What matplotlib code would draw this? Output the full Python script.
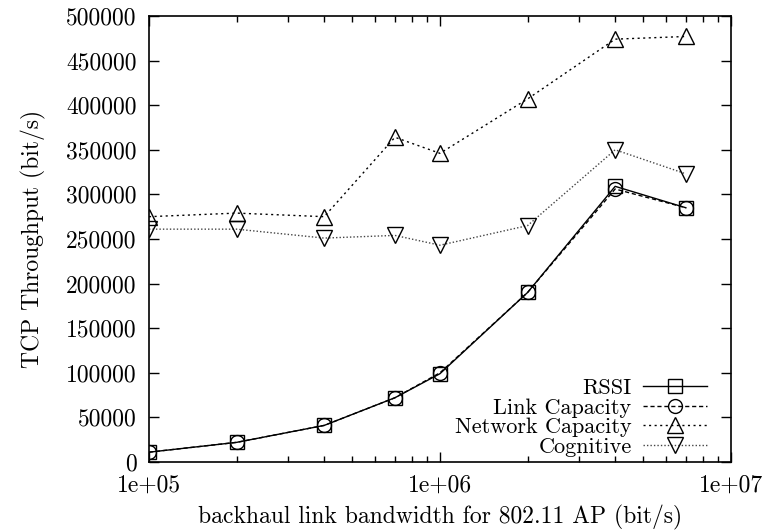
import matplotlib
matplotlib.use("Agg")
import matplotlib.pyplot as plt
from matplotlib.ticker import LogLocator, FixedLocator, NullFormatter

plt.rcParams['font.family'] = ['cmr10', 'DejaVu Serif']
plt.rcParams['axes.formatter.use_mathtext'] = True

bandwidth = [1e5, 2e5, 4e5, 7e5, 1e6, 2e6, 4e6, 7e6]
rssi = [11000, 22000, 41000, 72000, 99000, 190000, 309000, 285000]
link_capacity = [11000, 22000, 41000, 72000, 100000, 190000, 306000, 285000]
network_capacity = [275000, 279000, 275000, 364000, 346000, 407000, 474000, 477000]
cognitive = [261000, 261000, 251000, 254000, 243000, 265000, 350000, 323000]

y_ticks = list(range(0, 500001, 50000))
x_ticks = [1e5, 1e6, 1e7]
x_tick_labels = ["1e+05", "1e+06", "1e+07"]

fig = plt.figure(figsize=(7.63, 5.32), dpi=100)
ax = fig.add_axes([0.1953, 0.1316, 0.7627, 0.8384])

ms = 10
ax.plot(bandwidth, rssi, color='black', linestyle='-', linewidth=1.0,
        marker='s', markersize=ms, markerfacecolor='none', markeredgewidth=1.0, label='RSSI')
ax.plot(bandwidth, link_capacity, color='black', linestyle=(0, (3, 2)), linewidth=1.0,
        marker='o', markersize=ms, markerfacecolor='none', markeredgewidth=1.0, label='Link Capacity')
ax.plot(bandwidth, network_capacity, color='black', linestyle=(0, (1.5, 2.5)), linewidth=1.0,
        marker='^', markersize=ms + 1, markerfacecolor='none', markeredgewidth=1.0, label='Network Capacity')
ax.plot(bandwidth, cognitive, color='#444444', linestyle=(0, (1, 1.5)), linewidth=1.0,
        marker='v', markersize=ms + 1, markerfacecolor='none', markeredgecolor='black',
        markeredgewidth=1.0, label='Cognitive')

ax.set_xscale('log')
ax.set_xlim(1e5, 1e7)
ax.set_ylim(0, 500000)
ax.xaxis.set_major_locator(FixedLocator(x_ticks))
ax.set_xticklabels(x_tick_labels)
ax.xaxis.set_minor_locator(LogLocator(base=10, subs=range(2, 10)))
ax.xaxis.set_minor_formatter(NullFormatter())
ax.set_yticks(y_ticks)
ax.set_yticklabels([str(v) for v in y_ticks])

ax.tick_params(which='both', direction='in', top=True, right=True, labelsize=17)
ax.tick_params(which='major', length=7, width=1)
ax.tick_params(which='minor', length=4, width=1)
ax.tick_params(axis='x', pad=9)
ax.tick_params(axis='y', pad=9)
for s in ax.spines.values():
    s.set_linewidth(1.2)

ax.set_xlabel('backhaul link bandwidth for 802.11 AP (bit/s)', fontsize=17, labelpad=6)
ax.set_ylabel('TCP Throughput (bit/s)', fontsize=17, labelpad=14)

leg = ax.legend(loc='lower right', bbox_to_anchor=(0.959, 0.012), frameon=False,
                markerfirst=False, fontsize=16,
                handlelength=2.9, handletextpad=0.5, labelspacing=0.0,
                borderaxespad=0.0, borderpad=0.0)
for t in leg.get_texts():
    t.set_ha('right')

fig.savefig('out.png', dpi=100)
